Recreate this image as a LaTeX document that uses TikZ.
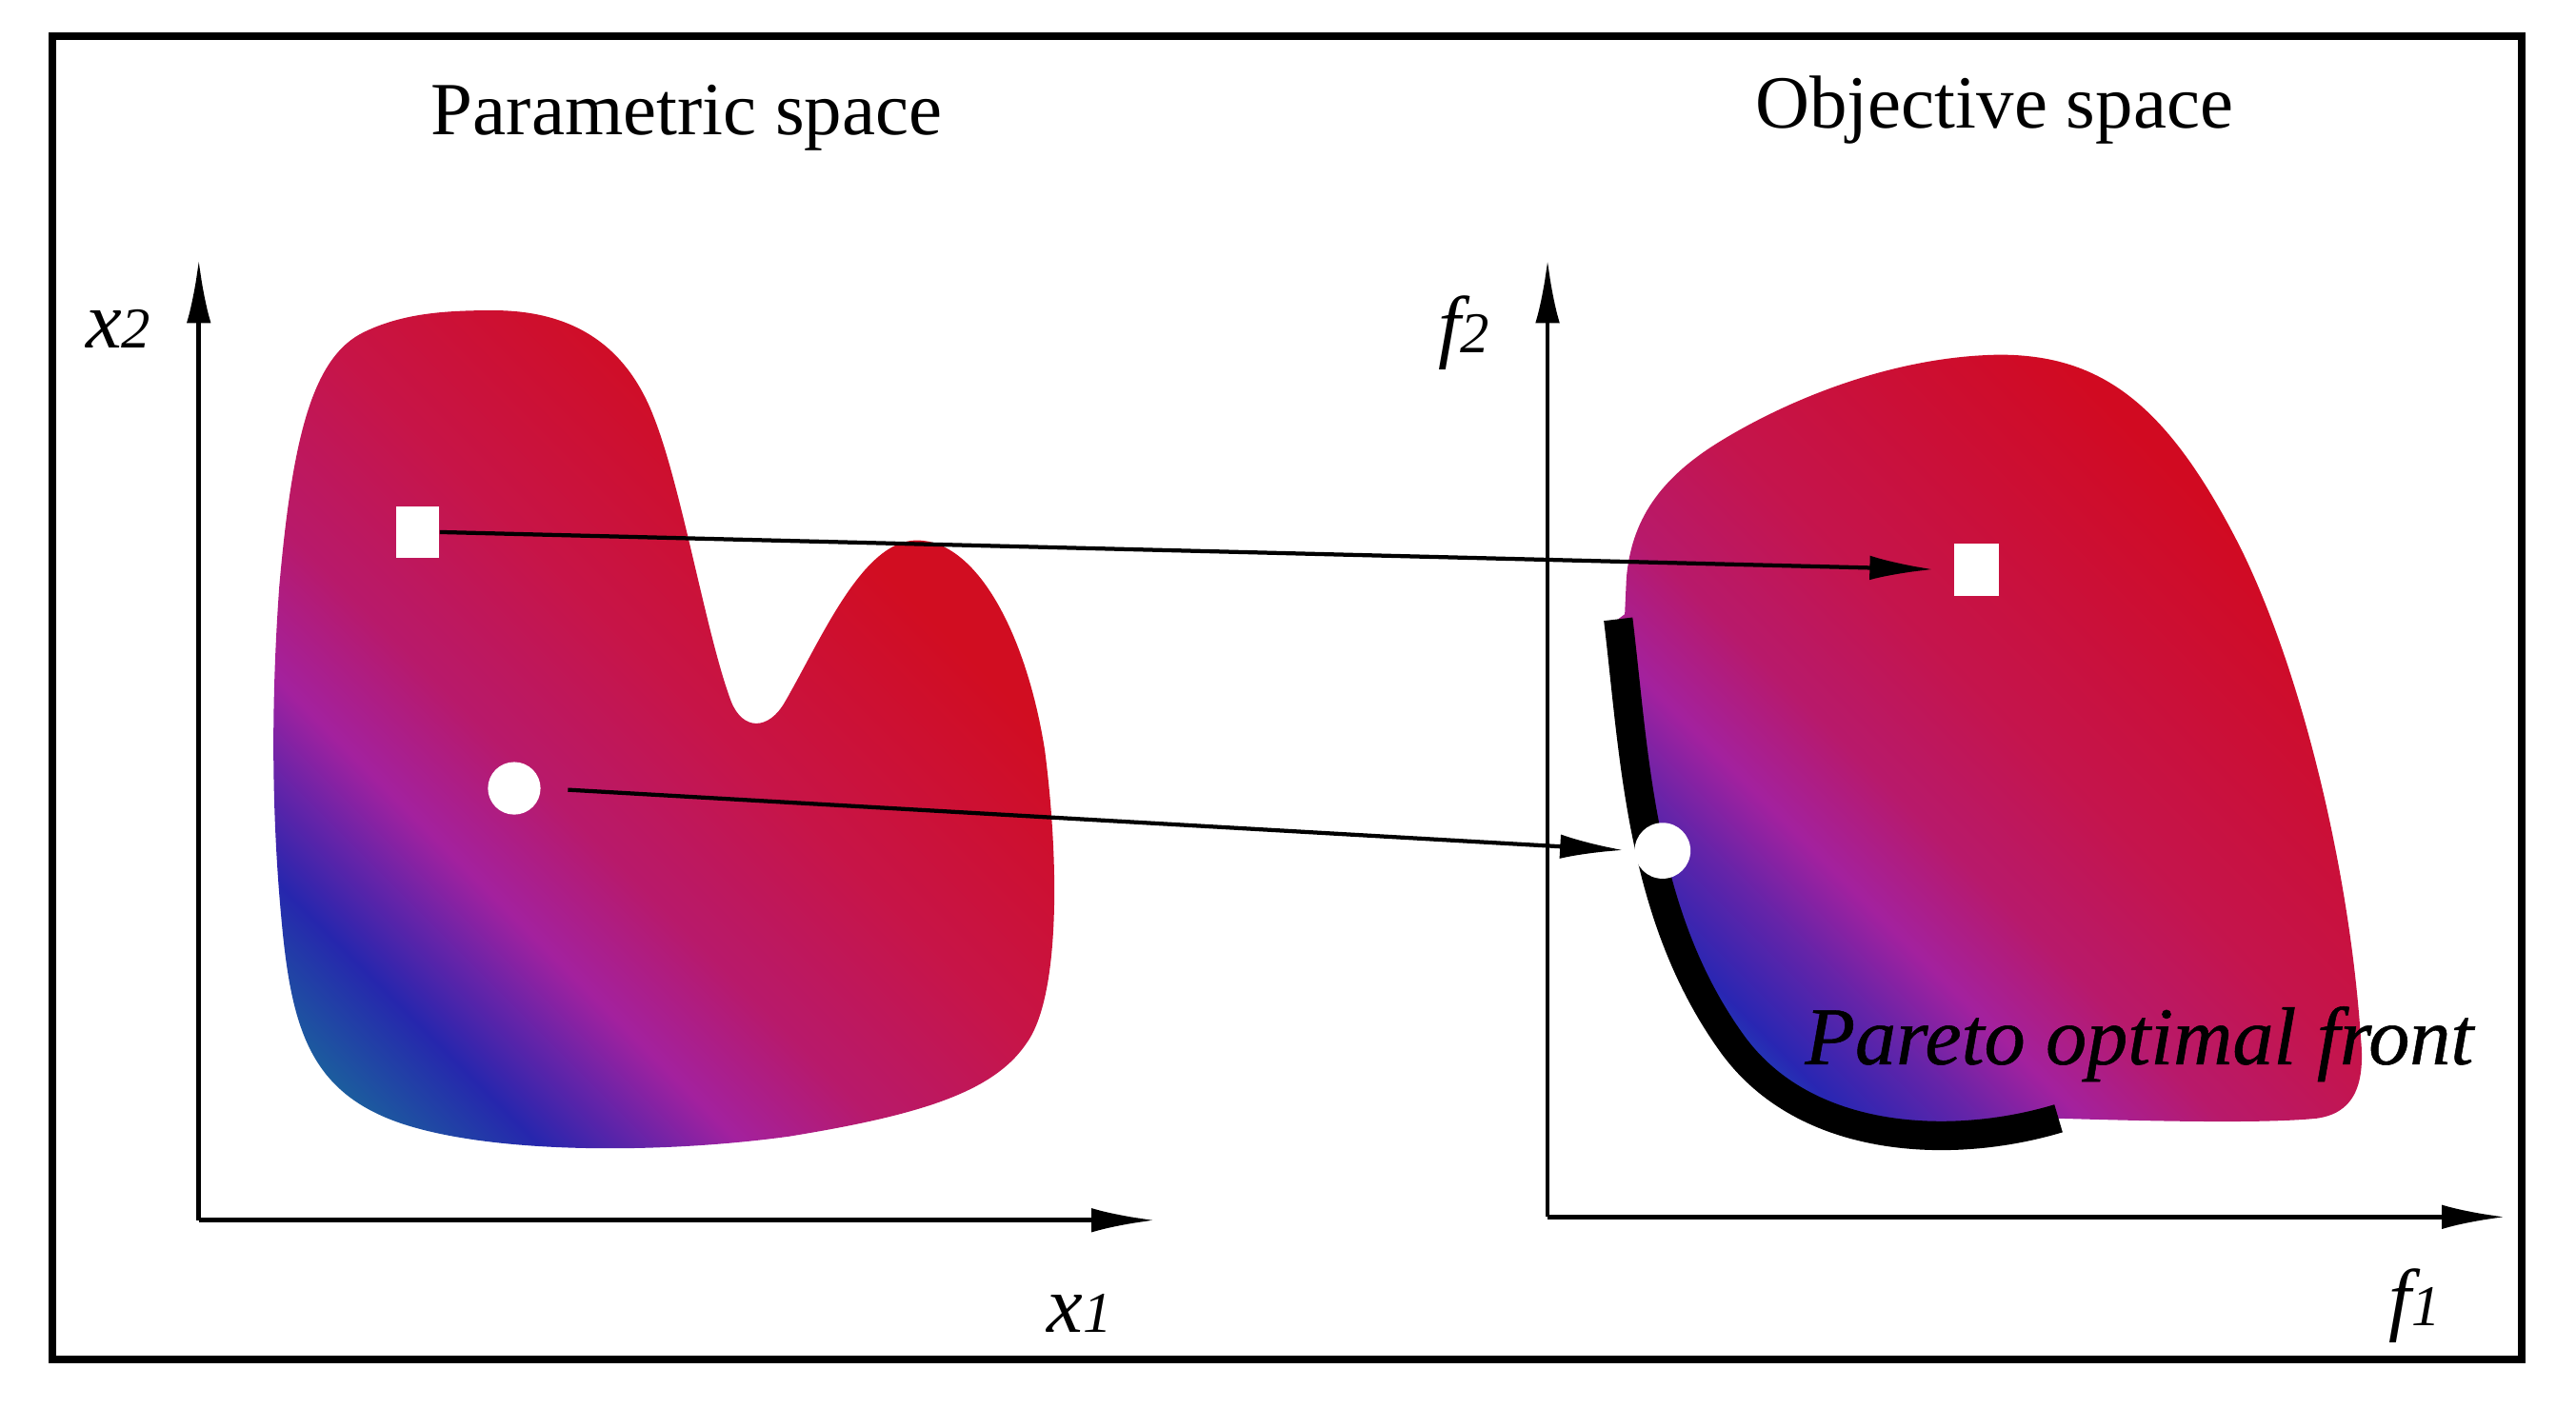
\documentclass[tikz,border=0pt]{standalone}
\usepackage{fontspec}
\setmainfont{Liberation Serif}
\newfontfamily\pfont{Liberation Serif}[ItalicFeatures={FakeBold=0.6}]
\usetikzlibrary{arrows.meta}

\pgfdeclarehorizontalshading{leftgrad}{100bp}{rgb(0bp)=(0.11,0.36,0.62); rgb(28.2bp)=(0.11,0.36,0.62); rgb(33.8bp)=(0.15,0.15,0.68); rgb(38bp)=(0.40,0.14,0.66); rgb(41.9bp)=(0.64,0.13,0.62); rgb(48.1bp)=(0.72,0.10,0.42); rgb(57.4bp)=(0.78,0.08,0.28); rgb(70.4bp)=(0.82,0.05,0.13); rgb(100bp)=(0.82,0.05,0.13)}
\pgfdeclarehorizontalshading{rightgrad}{100bp}{rgb(0bp)=(0.12,0.27,0.72); rgb(26.4bp)=(0.12,0.27,0.72); rgb(28.8bp)=(0.16,0.15,0.70); rgb(34.1bp)=(0.40,0.14,0.66); rgb(38.5bp)=(0.64,0.13,0.62); rgb(44.2bp)=(0.72,0.10,0.42); rgb(51.9bp)=(0.77,0.08,0.30); rgb(69.2bp)=(0.82,0.04,0.13); rgb(100bp)=(0.82,0.04,0.13)}

\tikzset{
  axisline/.style={line width=0.8pt, -{Latex[length=11pt,width=4.2pt]}},
  conn/.style={line width=0.7pt, -{Latex[length=11pt,width=4.2pt]}},
  marksq/.style={fill=white, draw=none, inner sep=0pt},
  markdot/.style={circle, fill=white, draw=none, inner sep=0pt},
  titletext/.style={font=\fontsize{13}{13}\selectfont, anchor=base},
  axislabel/.style={font=\fontsize{14}{14}\selectfont\itshape, anchor=base},
  front/.style={line width=5pt, line cap=butt},
}
\newcommand{\axlab}[2]{\textit{#1}{\fontsize{10}{10}\selectfont\textit{#2}}}

\begin{document}
\begin{tikzpicture}[x=0.01cm,y=0.01cm]
\useasboundingbox (0,0) rectangle (1568,857);
\fill[white] (0,0) rectangle (1568,857);

% left blob
\begin{scope}
\clip (300,668) .. controls (345,668) and (380,650) .. (398,603)
  .. controls (415,560) and (430,470) .. (445,430)
  .. controls (452,412) and (468,412) .. (478,430)
  .. controls (500,468) and (525,528) .. (558,528)
  .. controls (595,528) and (625,470) .. (636,400)
  .. controls (645,330) and (645,250) .. (625,222)
  .. controls (605,192) and (560,178) .. (480,165)
  .. controls (400,154) and (290,154) .. (236,176)
  .. controls (190,195) and (178,230) .. (172,290)
  .. controls (165,360) and (165,430) .. (170,500)
  .. controls (178,590) and (190,640) .. (222,655)
  .. controls (245,666) and (270,668) .. (300,668) -- cycle;
\begin{scope}[transform canvas={rotate=45}]
\shade[shading=leftgrad] (250,-420) rectangle (790,420);
\end{scope}
\end{scope}

% right blob
\begin{scope}
\clip (985,480) .. controls (995,397) and (998,300) .. (1054,222) .. controls (1099,159) and (1190,157) .. (1253,176)
  .. controls (1320,174) and (1380,173) .. (1410,176)
  .. controls (1432,179) and (1440,195) .. (1437,225)
  .. controls (1430,330) and (1400,450) .. (1364,523)
  .. controls (1320,610) and (1280,641) .. (1217,641)
  .. controls (1150,640) and (1085,612) .. (1045,587)
  .. controls (1010,565) and (993,540) .. (990,505)
  -- (989,483) -- cycle;
\begin{scope}[transform canvas={rotate=45}]
\shade[shading=rightgrad] (880,-1050) rectangle (1400,-200);
\end{scope}
\end{scope}

% frame
\draw[line width=1.3pt] (32,29) rectangle (1535,835);

% axes
\coordinate (o1) at (121,114);
\coordinate (y1) at (121,699);
\coordinate (x1) at (703,114);
\coordinate (o2) at (942,116);
\coordinate (y2) at (942,699);
\coordinate (x2) at (1525,116);
\draw[axisline] (o1) -- (y1);
\draw[axisline] (o1) -- (x1);
\draw[axisline] (o2) -- (y2);
\draw[axisline] (o2) -- (x2);

% Pareto front
\draw[front] (985,480) .. controls (995,397) and (998,300) .. (1054,222) .. controls (1099,159) and (1190,157) .. (1253,176);

% markers
\node[marksq, minimum width=0.26cm, minimum height=0.31cm] (sqa) at (254,533) {};
\node[markdot, minimum size=0.32cm] (cia) at (313,377) {};
\node[marksq, minimum width=0.27cm, minimum height=0.32cm] (sqb) at (1203,510) {};
\node[markdot, minimum size=0.34cm] (cib) at (1012,339) {};

% connectors
\draw[conn, shorten >=0.12cm] (sqa.east) -- (sqb.west);
\draw[conn, shorten <=0.16cm, shorten >=0.06cm] (cia.east) -- (cib.west);

% texts
\node[titletext] (tpar) at (418,775) {Parametric space};
\node[titletext] (tobj) at (1214,779) {Objective space};
\node[axislabel] (lx2) at (72,645) {\axlab{x}{2}};
\node[axislabel] (lx1) at (657,46) {\axlab{x}{1}};
\node[axislabel] (lf2) at (891,642) {\axlab{f}{2}};
\node[axislabel] (lf1) at (1470,50) {\axlab{f}{1}};
\node[font=\pfont\fontsize{14.2}{14.2}\selectfont\itshape, anchor=base west, inner sep=0pt] (pf) at (1098,209) {Pareto optimal front};
\end{tikzpicture}
\end{document}
